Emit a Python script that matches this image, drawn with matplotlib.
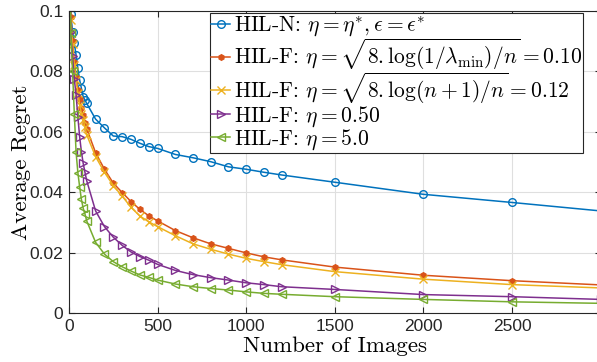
#!/usr/bin/env python3
import numpy as np
import matplotlib
matplotlib.use("Agg")
import matplotlib.pyplot as plt
import matplotlib as mpl

mpl.rcParams['mathtext.fontset'] = 'cm'
mpl.rcParams['axes.unicode_minus'] = False

# number of images (x) shared by all curves
n_images = [1, 10, 20, 30, 40, 50, 60, 70, 80, 90, 100, 150, 200, 250, 300, 350,
            400, 450, 500, 600, 700, 800, 900, 1000, 1100, 1200, 1500, 2000,
            2500, 3000]

hil_n = [0.15, 0.099, 0.0932, 0.0893, 0.0854, 0.081, 0.0772, 0.0744, 0.0716,
         0.0705, 0.0694, 0.0642, 0.0613, 0.0586, 0.0584, 0.0575, 0.0562,
         0.0551, 0.0545, 0.0525, 0.0514, 0.0501, 0.0484, 0.0476, 0.0466,
         0.0457, 0.0433, 0.0393, 0.0366, 0.0338]
hil_f_lam = [0.15, 0.098, 0.090, 0.083, 0.078, 0.074, 0.071, 0.068, 0.0655,
             0.063, 0.061, 0.0531, 0.0476, 0.0430, 0.0399, 0.0369, 0.0343,
             0.0322, 0.0305, 0.0273, 0.0249, 0.0229, 0.0214, 0.0199, 0.0186,
             0.0176, 0.0152, 0.0125, 0.0107, 0.0093]
hil_f_log = [0.15, 0.097, 0.089, 0.082, 0.077, 0.073, 0.069, 0.066, 0.064,
             0.0615, 0.059, 0.0518, 0.0466, 0.0422, 0.0387, 0.0350, 0.0321,
             0.0302, 0.0286, 0.0256, 0.0229, 0.0211, 0.0195, 0.0181, 0.0170,
             0.0160, 0.0137, 0.0112, 0.0094, 0.0083]
hil_f_050 = [0.15, 0.093, 0.085, 0.0774, 0.0722, 0.065, 0.0584, 0.0534, 0.0496,
             0.0466, 0.0438, 0.0338, 0.0286, 0.0251, 0.0224, 0.0202, 0.0187,
             0.0175, 0.0161, 0.0141, 0.0127, 0.0117, 0.0109, 0.0100, 0.0094,
             0.0087, 0.0078, 0.0061, 0.0054, 0.0045]
hil_f_5 = [0.15, 0.0926, 0.080, 0.066, 0.0532, 0.0465, 0.0418, 0.0376, 0.0347,
           0.0328, 0.0305, 0.0234, 0.0195, 0.0170, 0.0153, 0.0139, 0.0126,
           0.0118, 0.0109, 0.0096, 0.0087, 0.0081, 0.0076, 0.0070, 0.0065,
           0.0062, 0.0054, 0.0045, 0.0037, 0.0032]

labels = [
    r'HIL-N: $\eta=\eta^{*},\epsilon=\epsilon^{*}$',
    r'HIL-F: $\eta=\sqrt{8.\log(1/\lambda_{\mathrm{min}})/n}=0.10$',
    r'HIL-F: $\eta=\sqrt{8.\log(n+1)/n}=0.12$',
    r'HIL-F: $\eta=0.50$',
    r'HIL-F: $\eta=5.0$',
]
xticks = [0, 500, 1000, 1500, 2000, 2500]
yticks = [0, 0.02, 0.04, 0.06, 0.08, 0.1]
yticklabels = ['0', '0.02', '0.04', '0.06', '0.08', '0.1']

colors = ['#0072BD', '#D95319', '#EDB120', '#7E2F8E', '#77AC30']
markers = ['o', 'h', 'x', '>', '<']
series = [hil_n, hil_f_lam, hil_f_log, hil_f_050, hil_f_5]

fig = plt.figure(figsize=(5.97, 3.62), dpi=100)
ax = fig.add_axes([69/597, 1 - 313/362, (600.6 - 69)/597, (313 - 11)/362])

for ys, c, m, lab in zip(series, colors, markers, labels):
    filled = m in ('h',)
    ax.plot(n_images, ys, color=c, marker=m, markersize=5.5 if m != 'h' else 4,
            markerfacecolor=c if filled else 'none', markeredgecolor=c,
            markeredgewidth=1.0, linewidth=1.1, label=lab, clip_on=True)

ax.set_xlim(0, 3000)
ax.set_ylim(0, 0.1)
ax.set_xticks(xticks)
ax.set_yticks(yticks)
ax.set_yticklabels(yticklabels)
ax.tick_params(direction='in', top=True, right=True, labelsize=12.5,
               colors='#262626', length=4, pad=4)
for t in ax.get_xticklabels() + ax.get_yticklabels():
    t.set_fontfamily('Liberation Sans')
for s in ax.spines.values():
    s.set_color('#262626')
    s.set_linewidth(0.8)
ax.grid(True, color='#dfdfdf', linewidth=0.8)
ax.set_axisbelow(True)

ax.set_xlabel('Number of Images', fontfamily='cmr10', fontsize=16.5, labelpad=2)
ax.set_ylabel('Average Regret', fontfamily='cmr10', fontsize=16.5, labelpad=-1)

leg = ax.legend(loc='upper left', bbox_to_anchor=(210/597, 1 - 13/362),
                bbox_transform=fig.transFigure, prop={'family': 'cmr10', 'size': 15.5},
                handlelength=0.9, handletextpad=0.15, borderpad=0.05,
                labelspacing=-0.08, borderaxespad=0, fancybox=False,
                framealpha=1, edgecolor='#262626')
leg.get_frame().set_linewidth(0.8)

plt.savefig('out.png', dpi=100)
